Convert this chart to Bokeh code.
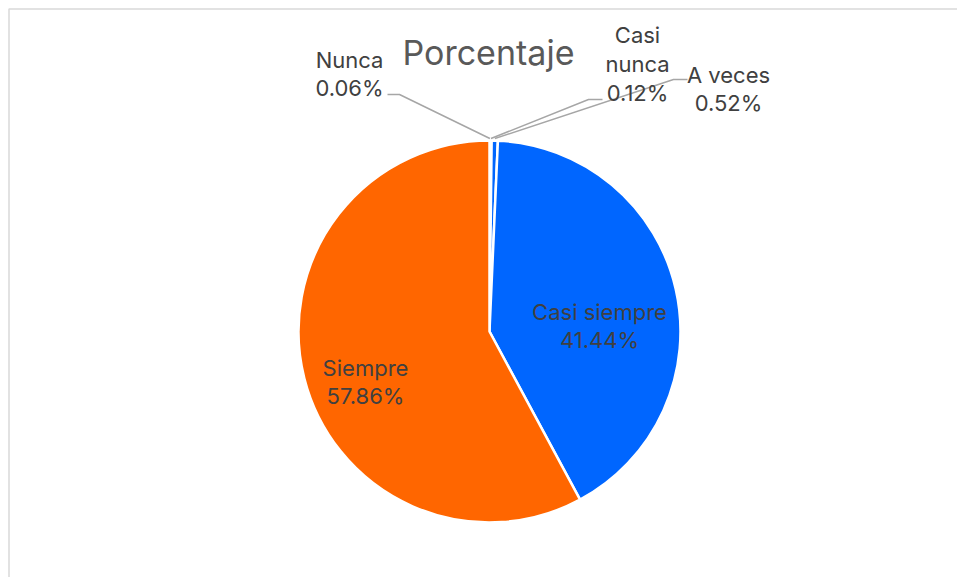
import math
from bokeh.plotting import figure
from bokeh.models import Range1d, ColumnDataSource
from bokeh.core.properties import value
from bokeh.embed import file_html
from bokeh.resources import INLINE

# ---- data ----
categories = ["Nunca", "Casi nunca", "A veces", "Casi siempre", "Siempre"]
percentages = [0.06, 0.12, 0.52, 41.44, 57.86]
colors = ["#0066FF", "#0066FF", "#0066FF", "#0066FF", "#FF6600"]
title_text = "Porcentaje"

# ---- layout (pixel space of the figure, y measured from bottom) ----
W, H = 957, 577
FONT = "Inter"
def P(x, y):  # screen coords -> data coords
    return x, H - y

cx, cy = P(489, 331)
R = 191

# label lines: (lines, x_center, first line y, line_spacing)
label_layout = {
    "Nunca": (["Nunca", "{pct}"], 349, 59, 28),
    "Casi nunca": (["Casi", "nunca", "{pct}"], 637, 34, 29),
    "A veces": (["A veces", "{pct}"], 728, 74, 28),
    "Casi siempre": (["Casi siempre", "{pct}"], 599, 311, 28),
    "Siempre": (["Siempre", "{pct}"], 365, 367, 28),
}
# leader line elbows: (elbow point, end point)
leaders = {
    "Nunca": ((399, 94), (387, 94)),
    "Casi nunca": ((588, 99), (602, 99)),
    "A veces": ((673, 79), (687, 79)),
}

p = figure(width=W, height=H, output_backend="svg", toolbar_location=None,
           x_range=Range1d(0, W), y_range=Range1d(0, H), min_border=0)
p.axis.visible = False
p.grid.visible = False
p.outline_line_color = None
p.background_fill_color = "white"

# chart frame (left/top edges visible)
fx0, fy0 = P(8.5, 8.5)
p.line([fx0, fx0, W], [0, fy0, fy0], line_color="#d9d9d9", line_width=1.5)

# wedges
total = sum(percentages)
starts, ends, mids = [], [], []
cum = 0.0
for v in percentages:
    a0 = math.pi / 2 - 2 * math.pi * cum / total
    cum += v
    a1 = math.pi / 2 - 2 * math.pi * cum / total
    starts.append(a0)
    ends.append(a1)
    mids.append((a0 + a1) / 2)

src = ColumnDataSource(dict(start=starts, end=ends, color=colors, cat=categories))
p.wedge(x=cx, y=cy, radius=R, start_angle="start", end_angle="end",
        direction="clock", fill_color="color", line_color="white", line_width=2.5,
        source=src)

# leader lines
for cat, (elbow, end) in leaders.items():
    i = categories.index(cat)
    ax = cx + (R + 2) * math.cos(mids[i])
    ay = cy + (R + 2) * math.sin(mids[i])
    ex, ey = P(*elbow)
    fx, fy = P(*end)
    p.line([ax, ex, fx], [ay, ey, fy], line_color="#a6a6a6", line_width=1.5)

# labels
tx, ty, tt = [], [], []
for cat, v in zip(categories, percentages):
    lines, x0, y0, dy = label_layout[cat]
    for k, ln in enumerate(lines):
        x, y = P(x0, y0 + k * dy)
        tx.append(x)
        ty.append(y)
        tt.append(ln.format(pct=f"{v:.2f}%"))
p.text(x=tx, y=ty, text=tt, text_align="center", text_baseline="alphabetic",
       text_font=value(FONT), text_font_size="22px", text_color="#404040")

# title
tX, tY = P(488, 52)
p.text(x=[tX], y=[tY], text=[title_text], text_align="center",
       text_baseline="alphabetic", text_font=value(FONT),
       text_font_size="34px", text_color="#595959")

open("out.html", "w").write(file_html(p, INLINE))
